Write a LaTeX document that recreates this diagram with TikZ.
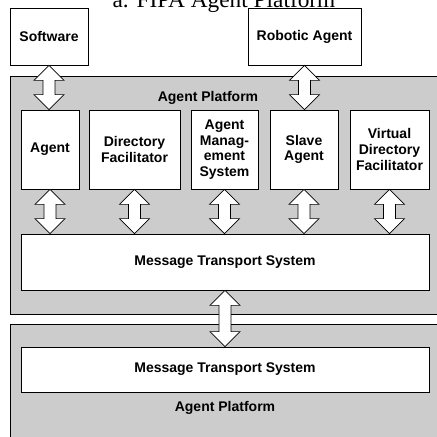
\documentclass[tikz,border=0pt]{standalone}
\usepackage{fontspec}
\setmainfont{Liberation Serif}
\setsansfont{Liberation Sans}
\usetikzlibrary{calc}
\definecolor{platgray}{RGB}{204,204,204}

\tikzset{
  box/.style={draw, fill=white, line width=0.6pt, font=\sffamily\bfseries\fontsize{10.5}{11.8}\selectfont,
    align=center, inner sep=0pt},
  platform/.style={draw, fill=platgray, line width=0.6pt},
  aplabel/.style={font=\sffamily\bfseries\fontsize{10.5}{12}\selectfont},
  blockarrow/.style={draw, fill=white, line width=0.5pt, line join=miter}
}

% double block arrow from the bottom of one node to the top of another
\newcommand{\dblarrow}[2]{%
  \coordinate (atop) at (#1.south);
  \coordinate (abot) at (#1.south |- #2.north);
  \draw[blockarrow] (atop) -- ++(11.25pt,-11.25pt) -- ++(-6.75pt,0pt)
    -- ($(abot)+(4.5pt,11.25pt)$) -- ++(6.75pt,0pt) -- (abot)
    -- ++(-11.25pt,11.25pt) -- ++(6.75pt,0pt)
    -- ($(atop)+(-4.5pt,-11.25pt)$) -- ++(-6.75pt,0pt) -- cycle;}

\begin{document}
\begin{tikzpicture}[x=0.75pt, y=0.75pt]
    \useasboundingbox (0,0) rectangle (437,-437);

    % title, cut off at the top
    \node[anchor=base, font=\fontsize{17.5}{20}\selectfont, inner sep=0pt] (title) at (224,-7) {a. FIPA Agent Platform};

    % outside the platform
    \node[box, minimum width=58.5pt, minimum height=42.75pt] (software) at (49,-36.5) {Software};
    \node[box, minimum width=84.75pt, minimum height=42.75pt] (robot) at (304.5,-36.5) {Robotic Agent};

    % upper platform
    \fill[platgray] (10,-76) rectangle (437,-314);
    \draw[line width=0.6pt] (437,-76) -- (10,-76) -- (10,-314) -- (437,-314);
    \node[aplabel] (ap1) at (208,-98) {Agent Platform};

    \node[box, minimum width=43.5pt, minimum height=59.25pt] (agent) at (50,-149.5) {Agent};
    \node[box, minimum width=68.25pt, minimum height=59.25pt] (df) at (134.5,-149.5) {Directory\\Facilitator};
    \node[box, minimum width=50.25pt, minimum height=59.25pt] (ams) at (224.5,-149.5) {Agent\\Manag-\\ement\\System};
    \node[box, minimum width=51pt, minimum height=59.25pt] (slave) at (304,-149.5) {Slave\\Agent};
    \node[box, minimum width=59.25pt, minimum height=59.25pt] (vdf) at (389.5,-149.5) {Virtual\\Directory\\Facilitator};

    \node[box, minimum width=306pt, minimum height=42pt] (mts1) at (225,-262) {Message Transport System};

    % lower platform
    \fill[platgray] (10,-324) rectangle (437,-437);
    \draw[line width=0.6pt] (437,-324) -- (10,-324) -- (10,-437);
    \node[box, minimum width=306pt, minimum height=33.75pt] (mts2) at (225,-369.5) {Message Transport System};
    \node[aplabel] (ap2) at (225,-408) {Agent Platform};

    % arrows
    \dblarrow{software}{agent}
    \dblarrow{robot}{slave}
    \foreach \comp in {agent,df,ams,slave,vdf}{
        \dblarrow{\comp}{mts1}
    }
    \dblarrow{mts1}{mts2}
\end{tikzpicture}
\end{document}
